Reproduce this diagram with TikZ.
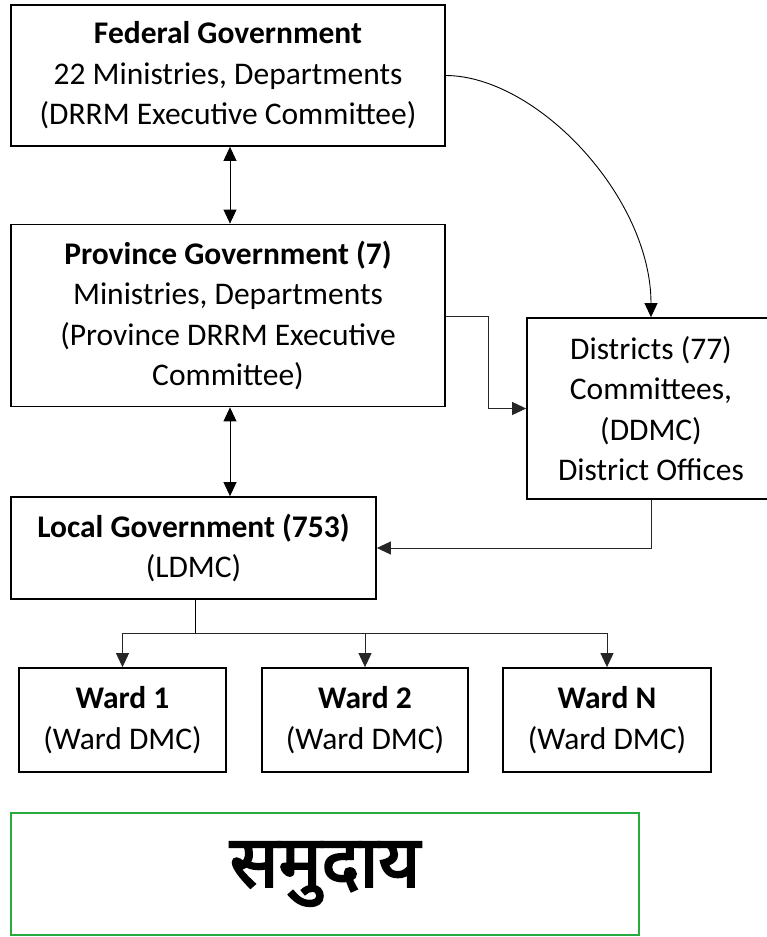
\documentclass[tikz,border=0pt]{standalone}
\usepackage{fontspec}
\setmainfont{Carlito}
\newfontfamily\devfont[Script=Devanagari,FakeBold=3]{Noto Sans}
\usetikzlibrary{arrows.meta,calc}
\definecolor{commgreen}{RGB}{40,170,60}
\begin{document}
\begin{tikzpicture}[x=1pt,y=-1pt,
  box/.style={draw=black,line width=1.8pt,rectangle,align=center,inner sep=0pt,
    font=\fontsize{31.5}{40.5}\selectfont},
  conn/.style={line width=0.9pt,draw=black!85,-{Triangle[length=14pt,width=13pt]}},
  biconn/.style={line width=0.9pt,draw=black,{Triangle[length=14pt,width=13pt]}-{Triangle[length=14pt,width=13pt]}},
  commbox/.style={draw=commgreen,line width=1.4pt,inner sep=0pt,font=\devfont\fontsize{72}{74}\selectfont}]
\useasboundingbox (0,0) rectangle (767,937);
\fill[white] (0,0) rectangle (767,937);
\node[box,minimum width=434pt,minimum height=141pt] (fed) at (228,75.5)
  {\textbf{Federal Government}\\22 Ministries, Departments\\(DRRM Executive Committee)};
\node[box,minimum width=434pt,minimum height=182pt] (prov) at (228,315.5)
  {\textbf{Province Government (7)}\\Ministries, Departments\\(Province DRRM Executive\\Committee)};
\node[box,minimum width=248pt,minimum height=181pt] (dist) at (651,408.5)
  {Districts (77)\\Committees,\\(DDMC)\\District Offices};
\node[box,minimum width=365pt,minimum height=102pt] (loc) at (193.5,548)
  {\textbf{Local Government (753)}\\(LDMC)};
\node[box,minimum width=207pt,minimum height=104pt] (w1) at (122.5,720)
  {\textbf{Ward 1}\\(Ward DMC)};
\node[box,minimum width=206pt,minimum height=104pt] (w2) at (365,720)
  {\textbf{Ward 2}\\(Ward DMC)};
\node[box,minimum width=208pt,minimum height=104pt] (wn) at (607,720)
  {\textbf{Ward N}\\(Ward DMC)};
\node[commbox,minimum width=628pt,minimum height=122pt] (sam) at (325,874) {समुदाय};
% connectors
\draw[biconn] (fed.south -| 230,0) -- (prov.north -| 230,0);
\draw[biconn] (prov.south -| 230,0) -- (loc.north -| 230,0);
\draw[line width=0.9pt,-{Triangle[length=14pt,width=13pt]}] (fed.east) .. controls (537,76) and (651,197) .. (dist.north);
\coordinate (pbend) at (488,316);
\draw[conn] (prov.east |- pbend) -- (pbend) |- (dist.west);
\coordinate (dbend) at (651,548);
\draw[conn] (dist.south) -- (dbend) -- (loc.east);
\coordinate (lbar) at (195,633);
\draw[line width=0.9pt] (loc.south -| lbar) -- (lbar);
\draw[conn] (lbar) -| (w1.north);
\draw[conn] (lbar) -| (w2.north);
\draw[conn] (lbar) -| (wn.north);
\end{tikzpicture}
\end{document}
